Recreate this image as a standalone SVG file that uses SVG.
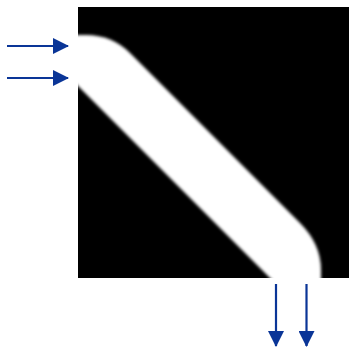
<svg xmlns="http://www.w3.org/2000/svg" width="351" height="348" viewBox="0 0 351 348">
  <style>
    .arrow { stroke: #0a3597; stroke-width: 2.2; fill: none; }
    .head { fill: #0a3597; }
  </style>
  <defs>
    <clipPath id="sq">
      <rect x="78" y="7" width="271" height="271"/>
    </clipPath>
    <filter id="soft" x="-10%" y="-10%" width="120%" height="120%">
      <feGaussianBlur stdDeviation="1.6"/>
    </filter>
    <marker id="ah" viewBox="0 0 16 16" refX="15" refY="8" markerWidth="16" markerHeight="16" markerUnits="userSpaceOnUse" orient="auto">
      <path class="head" d="M0,0 L16,8 L0,16 Z"/>
    </marker>
  </defs>
  <g id="waveguide">
    <rect x="78" y="7" width="271" height="271" fill="#000"/>
    <g clip-path="url(#sq)">
      <path d="M60,35 L86,35 Q112,35 130,53 L300,223 Q321,244 321,270 L321,295 L287,295 L78,86 L60,68 Z" fill="#fff" filter="url(#soft)"/>
    </g>
  </g>
  <g id="connectors">
    <line class="arrow" x1="7" y1="46" x2="68" y2="46" marker-end="url(#ah)"/>
    <line class="arrow" x1="7" y1="78" x2="68" y2="78" marker-end="url(#ah)"/>
    <line class="arrow" x1="276" y1="284" x2="276" y2="346" marker-end="url(#ah)"/>
    <line class="arrow" x1="306.5" y1="284" x2="306.5" y2="346" marker-end="url(#ah)"/>
  </g>
</svg>
